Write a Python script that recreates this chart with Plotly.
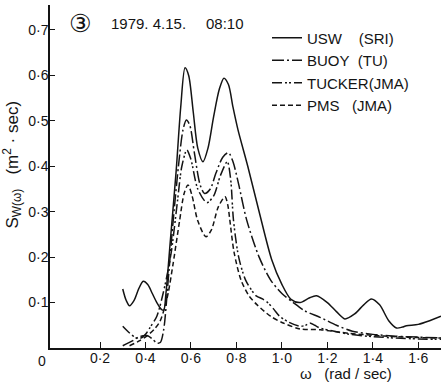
import plotly.graph_objects as go

# ---- data ----
usw_w = [0.30, 0.315, 0.33, 0.35, 0.37, 0.39, 0.41, 0.43, 0.45, 0.47, 0.48, 0.49, 0.51, 0.535, 0.555, 0.574,
         0.59, 0.61, 0.63, 0.653, 0.675, 0.70, 0.725, 0.745, 0.765, 0.785, 0.807, 0.85, 0.90, 0.955, 1.0,
         1.04, 1.08, 1.12, 1.152, 1.2, 1.24, 1.277, 1.32, 1.36, 1.394, 1.43, 1.47, 1.504, 1.53, 1.548, 1.6,
         1.65, 1.7]
usw_s = [0.13, 0.105, 0.093, 0.105, 0.13, 0.147, 0.14, 0.12, 0.10, 0.085, 0.083, 0.12, 0.24, 0.39, 0.53, 0.617,
         0.60, 0.52, 0.44, 0.41, 0.44, 0.51, 0.57, 0.594, 0.58, 0.53, 0.48, 0.40, 0.30, 0.195, 0.14,
         0.107, 0.10, 0.11, 0.115, 0.10, 0.08, 0.064, 0.075, 0.095, 0.108, 0.095, 0.06, 0.044, 0.046, 0.049, 0.052,
         0.06, 0.07]

buoy_w = [0.30, 0.34, 0.37, 0.39, 0.41, 0.43, 0.45, 0.465, 0.48, 0.50, 0.52, 0.545, 0.565, 0.58, 0.595, 0.615,
          0.64, 0.66, 0.685, 0.71, 0.74, 0.765, 0.785, 0.81, 0.845, 0.90, 0.95, 1.0, 1.05, 1.1, 1.17, 1.24,
          1.31, 1.4, 1.5, 1.6, 1.7]
buoy_s = [0.005, 0.015, 0.024, 0.027, 0.027, 0.02, 0.011, 0.012, 0.04, 0.15, 0.27, 0.40, 0.48, 0.502, 0.49, 0.43,
          0.36, 0.34, 0.35, 0.385, 0.42, 0.43, 0.41, 0.36, 0.282, 0.20, 0.15, 0.12, 0.10, 0.082, 0.067, 0.05,
          0.037, 0.03, 0.026, 0.024, 0.022]

tucker_w = [0.30, 0.33, 0.36, 0.38, 0.40, 0.42, 0.45, 0.478, 0.50, 0.515, 0.54, 0.56, 0.582, 0.60, 0.63, 0.67,
            0.70, 0.73, 0.76, 0.775, 0.787, 0.81, 0.84, 0.87, 0.889, 0.915, 0.94, 0.965, 0.99, 1.03, 1.08,
            1.105, 1.123, 1.145, 1.167, 1.22, 1.3, 1.4, 1.5, 1.6, 1.7]
tucker_s = [0.048, 0.033, 0.022, 0.022, 0.03, 0.045, 0.07, 0.121, 0.173, 0.216, 0.32, 0.40, 0.436, 0.415, 0.35, 0.32,
            0.335, 0.38, 0.41, 0.37, 0.282, 0.20, 0.15, 0.125, 0.114, 0.108, 0.099, 0.085, 0.07, 0.057, 0.048,
            0.05, 0.055, 0.05, 0.044, 0.038, 0.03, 0.025, 0.022, 0.02, 0.019]

pms_w = [0.33, 0.37, 0.405, 0.44, 0.464, 0.485, 0.50, 0.522, 0.55, 0.57, 0.587, 0.605, 0.63, 0.666, 0.69, 0.72,
         0.75, 0.762, 0.771, 0.79, 0.82, 0.855, 0.889, 0.95, 1.006, 1.08, 1.17, 1.3, 1.4, 1.5, 1.6, 1.7]
pms_s = [0.005, 0.015, 0.026, 0.042, 0.059, 0.09, 0.121, 0.187, 0.28, 0.34, 0.359, 0.335, 0.28, 0.245, 0.26, 0.31,
         0.333, 0.315, 0.282, 0.21, 0.15, 0.115, 0.096, 0.07, 0.055, 0.042, 0.04, 0.032, 0.028, 0.025, 0.023, 0.022]

series_names = ["USW\u00a0\u00a0\u00a0\u00a0(SRI)", "BUOY\u00a0\u00a0(TU)", "TUCKER(JMA)", "PMS\u00a0\u00a0\u00a0(JMA)"]

x_tickvals = [0.2, 0.4, 0.6, 0.8, 1.0, 1.2, 1.4, 1.6]
x_ticktext = ["0·2", "0·4", "0·6", "0·8", "1·0", "1·2", "1·4", "1·6"]
y_tickvals = [0.1, 0.2, 0.3, 0.4, 0.5, 0.6, 0.7]
y_ticktext = ["0·1", "0·2", "0·3", "0·4", "0·5", "0·6", "0·7"]

INK = "#141414"
FONT = "Liberation Sans, Arial, sans-serif"

fig = go.Figure()
styles = [
    (usw_w, usw_s, "solid"),
    (buoy_w, buoy_s, "12px,3px,2px,3px"),
    (tucker_w, tucker_s, "10px,3px,2px,2px,2px,3px"),
    (pms_w, pms_s, "5px,3px"),
]
for name, (w, s, dash) in zip(series_names, styles):
    fig.add_trace(go.Scatter(
        x=w, y=s, mode="lines", name=name,
        line=dict(color=INK, width=1.5, dash=dash, shape="spline", smoothing=0.8),
    ))

fig.update_layout(
    width=441, height=382,
    margin=dict(l=50, r=0, t=5, b=34),
    paper_bgcolor="white", plot_bgcolor="white",
    font=dict(family=FONT, size=14, color=INK),
    showlegend=True,
    legend=dict(x=0.555, y=0.952, xanchor="left", yanchor="top",
                bgcolor="rgba(0,0,0,0)", font=dict(size=15, family=FONT, color=INK),
                tracegroupgap=0, itemwidth=30),
    xaxis=dict(range=[-0.02, 1.7], showgrid=False, zeroline=False,
               showline=True, linecolor=INK, linewidth=1.5,
               ticks="inside", ticklen=6, tickwidth=1, tickcolor=INK,
               tickvals=x_tickvals, ticktext=x_ticktext, ticklabelstandoff=-4,
               tickfont=dict(size=14, family=FONT, color=INK)),
    yaxis=dict(range=[0, 0.755], showgrid=False, zeroline=False,
               showline=True, linecolor=INK, linewidth=1.5,
               ticks="inside", ticklen=5, tickwidth=1, tickcolor=INK,
               tickvals=y_tickvals, ticktext=y_ticktext, ticklabelstandoff=-3,
               tickfont=dict(size=14, family=FONT, color=INK)),
)

# axis titles & header as annotations
fig.add_annotation(x=0.635, y=0, xref="paper", yref="paper", text="ω\u00a0\u00a0\u00a0(rad / sec)",
                   showarrow=False, xanchor="left", yanchor="top", yshift=-15,
                   font=dict(size=15, family=FONT, color=INK))
fig.add_annotation(x=-0.02, y=0, xref="x", yref="paper", text="0", showarrow=False,
                   xanchor="right", yanchor="top", xshift=-2, yshift=-3,
                   font=dict(size=14, family=FONT, color=INK))
fig.add_annotation(x=-0.097, y=0.535, xref="paper", yref="paper", xanchor="center", yanchor="middle",
                   text="S<sub>W(ω)</sub>\u00a0\u00a0\u00a0(m<sup>2</sup>\u00a0·\u00a0sec)", textangle=-90,
                   showarrow=False, font=dict(size=17, family=FONT, color=INK))
fig.add_annotation(x=0.0765, y=0.945, xref="paper", yref="paper", text="③",
                   showarrow=False, xanchor="center", yanchor="middle",
                   font=dict(size=25, family="DejaVu Sans", color=INK))
fig.add_annotation(x=0.152, y=0.945, xref="paper", yref="paper", text="1979. 4.15.",
                   showarrow=False, xanchor="left", yanchor="middle",
                   font=dict(size=15, family=FONT, color=INK))
fig.add_annotation(x=0.395, y=0.945, xref="paper", yref="paper", text="08:10",
                   showarrow=False, xanchor="left", yanchor="middle",
                   font=dict(size=15, family=FONT, color=INK))

fig.write_html("out.html")
